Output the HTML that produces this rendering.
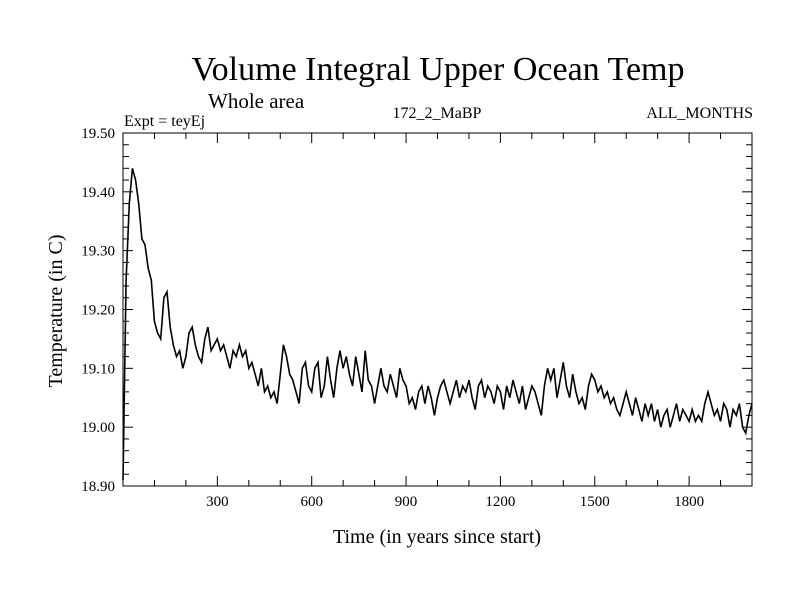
<!DOCTYPE html>
<html><head><meta charset="utf-8"><style>
body{margin:0;background:#fff;width:800px;height:600px;overflow:hidden}
svg text{font-family:"Liberation Serif",serif;fill:#000}
</style></head><body>
<svg width="800" height="600" id="c">
<text x="438" y="80" font-size="34" text-anchor="middle">Volume Integral Upper Ocean Temp</text>
<text x="208" y="108" font-size="21">Whole area</text>
<text x="124" y="126" font-size="16">Expt = teyEj</text>
<text x="437" y="118" font-size="16" text-anchor="middle">172_2_MaBP</text>
<text x="753" y="118" font-size="16" text-anchor="end">ALL_MONTHS</text>
<text x="437" y="543" font-size="20" text-anchor="middle">Time (in years since start)</text>
<text transform="translate(62,311) rotate(-90)" font-size="20" text-anchor="middle">Temperature (in C)</text>
<g id="ax"></g>
<rect x="123" y="133" width="629" height="353" fill="none" stroke="#000" stroke-width="1"/>
</svg>
<script>
const years=[];for(let i=0;i<=200;i++)years.push(i*10);
const temps=[18.91,19.25,19.38,19.44,19.42,19.38,19.32,19.31,19.27,19.25,19.18,19.16,19.15,19.22,19.23,19.17,19.14,19.12,19.13,19.10,
19.12,19.16,19.17,19.14,19.12,19.11,19.15,19.17,19.13,19.14,19.15,19.13,19.14,19.12,19.10,19.13,19.12,19.14,19.12,19.13,
19.10,19.11,19.09,19.07,19.10,19.06,19.07,19.05,19.06,19.04,19.09,19.14,19.12,19.09,19.08,19.06,19.04,19.10,19.11,19.07,
19.06,19.10,19.11,19.05,19.07,19.12,19.08,19.05,19.10,19.13,19.10,19.12,19.09,19.07,19.12,19.09,19.06,19.13,19.08,19.07,
19.04,19.07,19.10,19.07,19.06,19.09,19.07,19.05,19.10,19.08,19.07,19.04,19.05,19.03,19.06,19.07,19.04,19.07,19.05,19.02,
19.05,19.07,19.08,19.06,19.04,19.06,19.08,19.05,19.07,19.06,19.08,19.05,19.03,19.07,19.08,19.05,19.07,19.06,19.04,19.07,
19.06,19.03,19.07,19.05,19.08,19.06,19.04,19.07,19.03,19.05,19.07,19.06,19.04,19.02,19.07,19.10,19.08,19.10,19.05,19.08,
19.11,19.07,19.05,19.09,19.06,19.04,19.05,19.03,19.07,19.09,19.08,19.06,19.07,19.05,19.06,19.04,19.05,19.03,19.02,19.04,
19.06,19.04,19.02,19.05,19.03,19.01,19.04,19.02,19.04,19.01,19.03,19.00,19.02,19.03,19.00,19.02,19.04,19.01,19.03,19.02,
19.01,19.03,19.01,19.02,19.01,19.04,19.06,19.04,19.02,19.03,19.01,19.04,19.03,19.00,19.03,19.02,19.04,19.00,18.99,19.02,19.04];
const xTicks=[300,600,900,1200,1500,1800];
const yTicks=["18.90","19.00","19.10","19.20","19.30","19.40","19.50"];
const L=123,R=752,T=133,B=486;
const xs=v=>L+(v-0)/(2000-0)*(R-L);
const ys=v=>B-(v-18.9)/(0.6)*(B-T);
const NS="http://www.w3.org/2000/svg";
const ax=document.getElementById('ax');
function mk(t,a){const e=document.createElementNS(NS,t);for(const k in a)e.setAttribute(k,a[k]);ax.appendChild(e);return e;}
for(let y=100;y<2000;y+=100){const big=y%300===0;
 const l=mk('line',{x1:xs(y),x2:xs(y),y1:B,y2:B-(big?10:6),stroke:'#000'});
 
 
 const l2=mk('line',{x1:xs(y),x2:xs(y),y1:T,y2:T+(big?10:6),stroke:'#000'});
 
 }
xTicks.forEach(v=>{const t=mk('text',{x:xs(v),y:B+20,'font-size':15,'text-anchor':'middle'});t.textContent=v;
 
 });
for(let i=1;i<30;i++){const v=18.9+i*0.02;const big=i%5===0;
 const l=mk('line',{x1:L,x2:L+(big?10:6),y1:ys(v),y2:ys(v),stroke:'#000'});
 
 
 const l2=mk('line',{x1:R,x2:R-(big?10:6),y1:ys(v),y2:ys(v),stroke:'#000'});
 
 }
yTicks.forEach(s=>{const t=mk('text',{x:L-8,y:ys(parseFloat(s))+5,'font-size':15,'text-anchor':'end'});t.textContent=s;
 
 });
let d='';years.forEach((y,i)=>{d+=(i?'L':'M')+xs(y).toFixed(1)+','+ys(temps[i]).toFixed(1);});
const p=mk('path',{d:d,fill:'none',stroke:'#000','stroke-width':1.6});


</script>
</body></html>
